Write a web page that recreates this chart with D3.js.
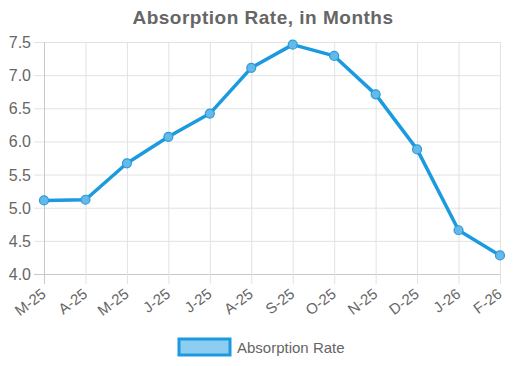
<!DOCTYPE html>
<html>
<head>
<meta charset="utf-8">
<script src="https://d3js.org/d3.v7.min.js"></script>
<style>
  body { margin: 0; background: #fff; }
  text { font-family: "Liberation Sans", Arial, sans-serif; fill: #666; }
</style>
</head>
<body>
<svg id="chart" width="526" height="366"></svg>
<script>
  var months = ["M-25", "A-25", "M-25", "J-25", "J-25", "A-25", "S-25", "O-25", "N-25", "D-25", "J-26", "F-26"];
  var absorption = [5.11, 5.12, 5.67, 6.07, 6.42, 7.11, 7.46, 7.29, 6.71, 5.88, 4.66, 4.28];
  var yTicks = [4.0, 4.5, 5.0, 5.5, 6.0, 6.5, 7.0, 7.5];

  var svg = d3.select("#chart");
  var plotLeft = 44, plotRight = 500, plotTop = 42, plotBottom = 274;
  var lineColor = "#1b9ae0";

  /* scales */
  var x = d3.scalePoint().domain(d3.range(months.length)).range([plotLeft, plotRight]);
  var y = d3.scaleLinear().domain([4, 7.5]).range([plotBottom, plotTop]);

  /* title */
  svg.append("text")
    .attr("x", 263).attr("y", 24)
    .attr("text-anchor", "middle")
    .style("font-size", "19px").style("font-weight", "bold")
    .style("letter-spacing", "0.5px")
    .text("Absorption Rate, in Months");

  /* horizontal grid + y labels */
  svg.append("g").selectAll("line").data(yTicks).join("line")
    .attr("x1", plotLeft - 10).attr("x2", plotRight)
    .attr("y1", function(d) { return y(d) + 0.5; }).attr("y2", function(d) { return y(d) + 0.5; })
    .attr("stroke", function(d) { return d === 4 ? "#c8c8c8" : "#e2e2e2"; })
    .attr("stroke-width", 1);

  svg.append("g").selectAll("text").data(yTicks).join("text")
    .attr("x", plotLeft - 13).attr("y", function(d) { return y(d) + 6; })
    .attr("text-anchor", "end")
    .style("font-size", "16px")
    .text(function(d) { return d3.format(".1f")(d); });

  /* vertical grid + x labels */
  svg.append("g").selectAll("line").data(d3.range(months.length)).join("line")
    .attr("x1", function(i) { return x(i) + 0.5; }).attr("x2", function(i) { return x(i) + 0.5; })
    .attr("y1", plotTop).attr("y2", plotBottom + 10)
    .attr("stroke", function(i) { return i === 0 ? "#c8c8c8" : "#e2e2e2"; })
    .attr("stroke-width", 1);

  svg.append("g").selectAll("text").data(months).join("text")
    .attr("transform", function(d, i) { return "translate(" + (x(i) + 3) + "," + (plotBottom + 22) + ") rotate(-37)"; })
    .attr("text-anchor", "end")
    .style("font-size", "15px")
    .text(function(d) { return d; });

  /* line */
  var line = d3.line()
    .x(function(d, i) { return x(i); })
    .y(function(d) { return y(d); });

  svg.append("path")
    .datum(absorption)
    .attr("d", line)
    .attr("fill", "none")
    .attr("stroke", lineColor)
    .attr("stroke-width", 3.5)
    .attr("stroke-linejoin", "round");

  svg.append("g").selectAll("circle").data(absorption).join("circle")
    .attr("cx", function(d, i) { return x(i); })
    .attr("cy", function(d) { return y(d); })
    .attr("r", 4.5)
    .attr("fill", "#62b9ea")
    .attr("stroke", "#2d9ad8")
    .attr("stroke-width", 1.2);

  /* legend */
  svg.append("rect")
    .attr("x", 179).attr("y", 339).attr("width", 51).attr("height", 16)
    .attr("fill", "#8dcdf0").attr("stroke", lineColor).attr("stroke-width", 3);
  svg.append("text")
    .attr("x", 237).attr("y", 353)
    .style("font-size", "15px")
    .text("Absorption Rate");
</script>
</body>
</html>
